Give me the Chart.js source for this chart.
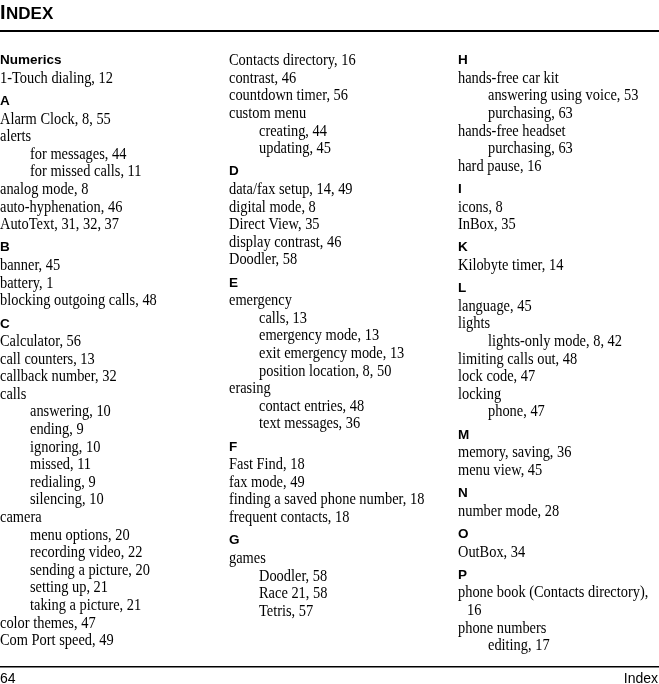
<!DOCTYPE html>
<html>
<head>
<meta charset="utf-8">
<script src="https://cdn.jsdelivr.net/npm/chart.js@4.4.0/dist/chart.umd.min.js"></script>
<style>
  html, body { margin:0; padding:0; background:#fff; }
  #page { display:block; }
</style>
</head>
<body>
<canvas id="page" width="659" height="684"></canvas>
<script>
// index entries, one list per column
// '#' = letter heading, '>' = sub entry, '~' = run-on line of the entry above
const column1 = [
  '#Numerics', '1-Touch dialing, 12',
  '#A', 'Alarm Clock, 8, 55', 'alerts', '>for messages, 44', '>for missed calls, 11',
  'analog mode, 8', 'auto-hyphenation, 46', 'AutoText, 31, 32, 37',
  '#B', 'banner, 45', 'battery, 1', 'blocking outgoing calls, 48',
  '#C', 'Calculator, 56', 'call counters, 13', 'callback number, 32', 'calls',
  '>answering, 10', '>ending, 9', '>ignoring, 10', '>missed, 11', '>redialing, 9', '>silencing, 10',
  'camera', '>menu options, 20', '>recording video, 22', '>sending a picture, 20',
  '>setting up, 21', '>taking a picture, 21', 'color themes, 47', 'Com Port speed, 49'
];
const column2 = [
  'Contacts directory, 16', 'contrast, 46', 'countdown timer, 56', 'custom menu',
  '>creating, 44', '>updating, 45',
  '#D', 'data/fax setup, 14, 49', 'digital mode, 8', 'Direct View, 35', 'display contrast, 46', 'Doodler, 58',
  '#E', 'emergency', '>calls, 13', '>emergency mode, 13', '>exit emergency mode, 13',
  '>position location, 8, 50', 'erasing', '>contact entries, 48', '>text messages, 36',
  '#F', 'Fast Find, 18', 'fax mode, 49', 'finding a saved phone number, 18', 'frequent contacts, 18',
  '#G', 'games', '>Doodler, 58', '>Race 21, 58', '>Tetris, 57'
];
const column3 = [
  '#H', 'hands-free car kit', '>answering using voice, 53', '>purchasing, 63',
  'hands-free headset', '>purchasing, 63', 'hard pause, 16',
  '#I', 'icons, 8', 'InBox, 35',
  '#K', 'Kilobyte timer, 14',
  '#L', 'language, 45', 'lights', '>lights-only mode, 8, 42', 'limiting calls out, 48',
  'lock code, 47', 'locking', '>phone, 47',
  '#M', 'memory, saving, 36', 'menu view, 45',
  '#N', 'number mode, 28',
  '#O', 'OutBox, 34',
  '#P', 'phone book (Contacts directory),', '~16', 'phone numbers', '>editing, 17'
];
const pageHeading = ['I', 'NDEX'];
const footerLeft = '64';
const footerRight = 'Index';

// turn a column list into points: x = column, y = line slot
function buildColumn(list, col){
  const pts = [];
  let slot = 0;
  list.forEach((raw, i) => {
    let kind = 'main', text = raw;
    if(raw[0] === '#' || raw[0] === '>' || raw[0] === '~'){ kind = raw[0]; text = raw.slice(1); }
    if(kind === '#' && i > 0) slot += 0.32;
    pts.push({ x: col, y: slot, text: text, kind: kind });
    slot += 1;
  });
  return pts;
}

const LINE = 17.6, TOP = 61, COLW = 229;

const textPlugin = {
  id: 'indexText',
  beforeDraw(chart){
    const ctx = chart.ctx;
    ctx.save();
    ctx.fillStyle = '#fff';
    ctx.fillRect(0, 0, chart.width, chart.height);
    ctx.fillStyle = '#000';
    // heading
    ctx.textBaseline = 'alphabetic';
    ctx.font = 'bold 20px "Liberation Sans"';
    ctx.fillText(pageHeading[0], 0, 18.5);
    const w = ctx.measureText(pageHeading[0]).width;
    ctx.font = 'bold 17px "Liberation Sans"';
    ctx.fillText(pageHeading[1], w + 0.5, 18.5);
    ctx.fillRect(0, 30, chart.width, 2);
    // footer
    ctx.fillRect(0, 666, chart.width, 1.5);
    ctx.font = '14px "Liberation Sans"';
    ctx.fillText(footerLeft, 0, 683);
    ctx.textAlign = 'right';
    ctx.fillText(footerRight, chart.width - 1, 683);
    ctx.restore();
  },
  afterDatasetsDraw(chart){
    const ctx = chart.ctx;
    ctx.save();
    ctx.fillStyle = '#000';
    ctx.textBaseline = 'middle';
    chart.data.datasets.forEach((ds, di) => {
      const meta = chart.getDatasetMeta(di);
      meta.data.forEach((el, i) => {
        const p = ds.data[i];
        let x = el.x;
        if(p.kind === '#'){
          ctx.font = 'bold 13.5px "Liberation Sans"';
          ctx.fillText(p.text, x, el.y - 0.5);
          return;
        }
        if(p.kind === '>') x += 30;
        if(p.kind === '~') x += 9;
        ctx.font = '16px "Liberation Serif"';
        ctx.save();
        ctx.translate(x, el.y);
        ctx.scale(0.9, 1);
        ctx.fillText(p.text, 0, 0);
        ctx.restore();
      });
    });
    ctx.restore();
  }
};

const ctx = document.getElementById('page').getContext('2d');
window.indexChart = new Chart(ctx, {
  type: 'scatter',
  data: {
    datasets: [
      { data: buildColumn(column1, 0), pointRadius: 0 },
      { data: buildColumn(column2, 1), pointRadius: 0 },
      { data: buildColumn(column3, 2), pointRadius: 0 }
    ]
  },
  options: {
    responsive: false,
    animation: false,
    events: [],
    layout: { padding: 0 },
    plugins: { legend: { display: false }, tooltip: { enabled: false } },
    scales: {
      x: { type: 'linear', display: false, min: 0, max: 659 / COLW },
      y: { type: 'linear', display: false, reverse: true, min: -TOP / LINE, max: (684 - TOP) / LINE }
    }
  },
  plugins: [textPlugin]
});
</script>
</body>
</html>
